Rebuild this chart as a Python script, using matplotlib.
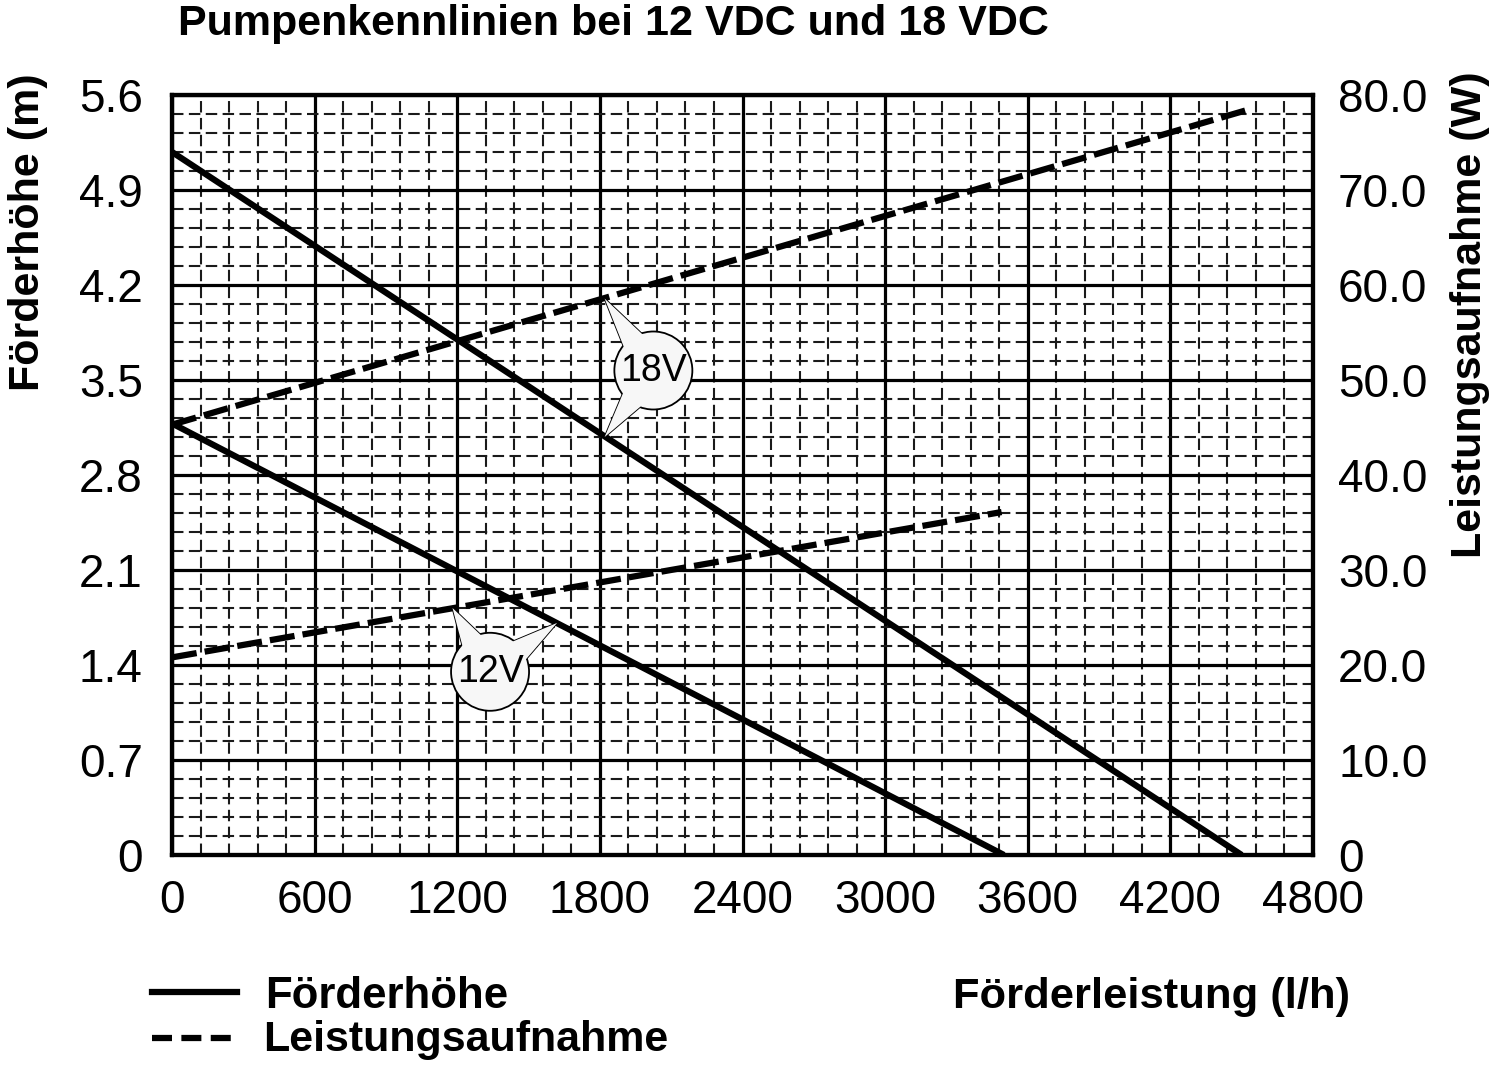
import matplotlib
matplotlib.use("Agg")
import matplotlib.pyplot as plt
import numpy as np
from matplotlib.patches import Circle, Polygon
from matplotlib.lines import Line2D
from matplotlib.transforms import IdentityTransform

# values
flow_18 = [0, 4500]
head_18 = [5.18, 0.0]
flow_12 = [0, 3500]
head_12 = [3.18, 0.0]
pflow_18 = [0, 4520]
power_18 = [45.3, 78.4]
pflow_12 = [0, 3490]
power_12 = [20.8, 36.1]

x_ticks = [0, 600, 1200, 1800, 2400, 3000, 3600, 4200, 4800]
y_ticks = [0, 0.7, 1.4, 2.1, 2.8, 3.5, 4.2, 4.9, 5.6]
y_labels = ["0", "0.7", "1.4", "2.1", "2.8", "3.5", "4.2", "4.9", "5.6"]
w_ticks = [0, 10, 20, 30, 40, 50, 60, 70, 80]
w_labels = ["0", "10.0", "20.0", "30.0", "40.0", "50.0", "60.0", "70.0", "80.0"]

# callouts: label, bubble centre (flow, head), pointer tips (flow, head)
callouts = [
    ("18V", (2025, 3.57), [(1820, 4.10), (1820, 3.08)]),
    ("12V", (1338, 1.35), [(1180, 1.82), (1620, 1.71)]),
]

plt.rcParams['font.family'] = ['Liberation Sans', 'DejaVu Sans']

fig = plt.figure(figsize=(15, 10.68), dpi=100)
ax = fig.add_axes([172/1500, 1-855/1068, (1313-172)/1500, (855-95)/1068])
ax2 = ax.twinx()

ax.set_xlim(0, 4800)
ax.set_ylim(0, 5.6)
ax2.set_ylim(0, 80)

ax.set_xticks(x_ticks)
ax.set_xticks(np.arange(0, 4801, 120), minor=True)
ax.set_yticks(y_ticks)
ax.set_yticklabels(y_labels)
ax.set_yticks(np.arange(0, 5.61, 0.14), minor=True)
ax2.set_yticks(w_ticks)
ax2.set_yticklabels(w_labels)

ax.grid(True, which='minor', color='#1a1a1a', lw=1.5, ls=(0, (5.5, 2.6)))
ax.grid(True, which='major', color='black', lw=2.3, ls='-')
ax.set_axisbelow(True)

ax.tick_params(which='both', length=0)
ax.tick_params(axis='x', labelsize=33, pad=17)
ax.tick_params(axis='y', labelsize=33, pad=21)
ax2.tick_params(length=0, labelsize=33, pad=18)
for a in (ax, ax2):
    for s in a.spines.values():
        s.set_linewidth(3)

ax.plot(flow_18, head_18, color='black', lw=4.5, solid_capstyle='butt', zorder=4)
ax.plot(flow_12, head_12, color='black', lw=4.5, solid_capstyle='butt', zorder=4)
ax2.plot(pflow_18, power_18, color='black', lw=4.5, ls=(0, (4, 1.3)), zorder=4)
ax2.plot(pflow_12, power_12, color='black', lw=4.5, ls=(0, (4, 1.3)), zorder=4)

# speech bubbles, drawn in pixel coordinates
r = 39
for label, centre, tips in callouts:
    cx, cy = ax.transData.transform(centre)
    circ = Circle((cx, cy), r, transform=IdentityTransform(), facecolor='#f7f7f7',
                  edgecolor='black', lw=1.3, zorder=6)
    fig.add_artist(circ)
    for t in tips:
        tx, ty = ax.transData.transform(t)
        d = np.array([tx - cx, ty - cy])
        d = d / np.hypot(*d)
        n = np.array([-d[1], d[0]])
        base = np.array([cx, cy]) + d * r * 0.72
        b1 = base + n * 13
        b2 = base - n * 13
        tri = Polygon([b1, (tx, ty), b2], closed=True, transform=IdentityTransform(),
                      facecolor='#f7f7f7', edgecolor='none', zorder=7)
        fig.add_artist(tri)
        fig.add_artist(Line2D([b1[0], tx, b2[0]], [b1[1], ty, b2[1]], color='black',
                              lw=1.3, transform=IdentityTransform(), zorder=5))
    fig.text(cx/1500, cy/1068, label, fontsize=27, ha='center', va='center', zorder=8)

fig.text(178/1500, 1-24/1068, "Pumpenkennlinien bei 12 VDC und 18 VDC",
         fontsize=31, fontweight='bold', ha='left', va='center')
fig.text(28/1500, 1-232/1068, "Förderhöhe (m)", fontsize=31, fontweight='bold',
         rotation=90, ha='center', va='center')
fig.text(1470/1500, 1-315/1068, "Leistungsaufnahme (W)", fontsize=31, fontweight='bold',
         rotation=90, ha='center', va='center')

fig.add_artist(Line2D([152/1500, 237/1500], [1-992/1068]*2, color='black', lw=4.5))
fig.add_artist(Line2D([152/1500, 237/1500], [1-1038/1068]*2, color='black', lw=4.5,
                      ls=(0, (3.2, 1.5))))
fig.text(265/1500, 1-997/1068, "Förderhöhe", fontsize=31.5,
         fontweight='bold', ha='left', va='center')
fig.text(263/1500, 1-1040/1068, "Leistungsaufnahme", fontsize=31,
         fontweight='bold', ha='left', va='center')
fig.text(1350/1500, 1-997/1068, "Förderleistung (l/h)", fontsize=31.3,
         fontweight='bold', ha='right', va='center')

fig.savefig("out.png", dpi=100, facecolor='white')
